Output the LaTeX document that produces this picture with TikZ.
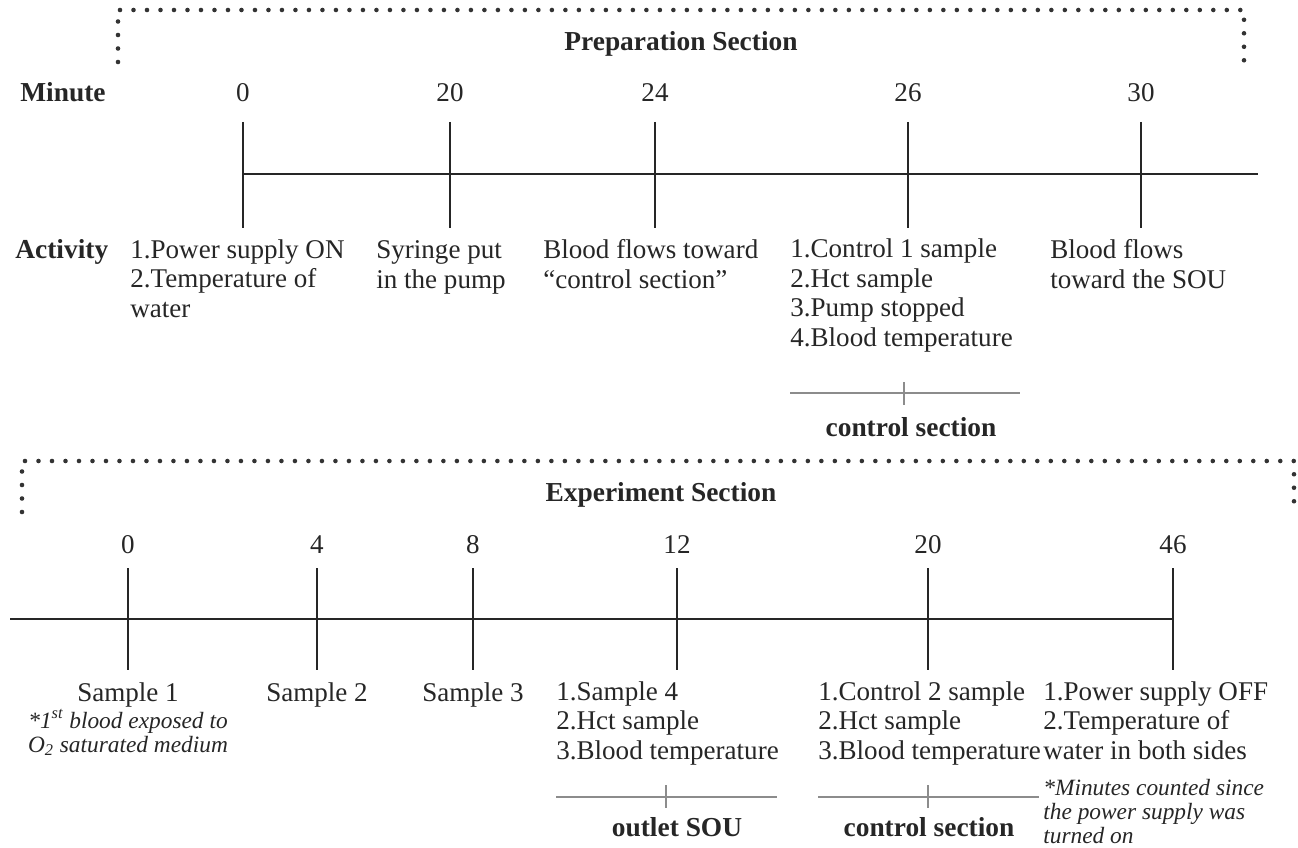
\documentclass[tikz,border=0pt]{standalone}
\usepackage{fontspec}
\setmainfont{Liberation Serif}
\usetikzlibrary{positioning}

\begin{document}
\begin{tikzpicture}[
    x=0.02cm, y=-0.02cm,
    every node/.style={inner sep=0pt, text=black!85, font=\fontsize{15.4}{16.7}\selectfont},
    head/.style={font=\fontsize{15.6}{16.7}\selectfont\bfseries},
    item/.style={anchor=base west, align=left},
    note/.style={font=\fontsize{13.3}{13.6}\selectfont\itshape},
    axis/.style={draw=black!85, line width=1.1pt},
    brace/.style={draw=black!45, line width=1.2pt},
    dotline/.style={draw=black!80, line width=2.6pt, line cap=round, dash pattern=on 0pt off 0.27cm}
]
    \useasboundingbox (0,0) rectangle (1298,848);

    % Preparation section
    \draw[dotline] (118,62) -- (118,10) -- (1244,10) -- (1244,62);
    \node[head, anchor=base] (prep) at (681,51) {Preparation Section};

    % Minutes
    \node[head, anchor=base west] (minute) at (20,102) {Minute};
    \node[anchor=base] (a0) at (243,102) {0};
    \node[anchor=base] (a20) at (450,102) {20};
    \node[anchor=base] (a24) at (655,102) {24};
    \node[anchor=base] (a26) at (908,102) {26};
    \node[anchor=base] (a30) at (1141,102) {30};

    % Time line
    \coordinate (ta) at (243,174);
    \coordinate (tb) at (1258,174);
    \draw[axis] (ta) -- (tb);
    \draw[axis] (a0 |- 0,122) -- (a0 |- 0,228);
    \draw[axis] (a20 |- 0,122) -- (a20 |- 0,228);
    \draw[axis] (a24 |- 0,122) -- (a24 |- 0,228);
    \draw[axis] (a26 |- 0,122) -- (a26 |- 0,228);
    \draw[axis] (a30 |- 0,122) -- (a30 |- 0,228);

    % Activities (base = last line)
    \node[head, anchor=base west] (activity) at (15,258) {Activity};
    \node[item] (act0) at (130,317) {1.Power supply ON\\2.Temperature of\\water};
    \node[item] (act20) at (376,288) {Syringe put\\in the pump};
    \node[item] (act24) at (543,288) {Blood flows toward\\``control section''};
    \node[item] (act26) at (790,346) {1.Control 1 sample\\2.Hct sample\\3.Pump stopped\\4.Blood temperature};
    \node[item] (act30) at (1050,288) {Blood flows\\toward the SOU};

    % control section mark
    \coordinate (cal) at (790,393);
    \coordinate (car) at (1020,393);
    \draw[brace] (cal) -- (car);
    \draw[brace] (904,382) -- (904,405);
    \node[head, anchor=base] (ctrla) at (911,436) {control section};

    % Experiment section
    \draw[dotline] (22,512) -- (22,461) -- (1294,461) -- (1294,512);
    \node[head, anchor=base] (expt) at (661,501) {Experiment Section};

    % Minutes
    \node[anchor=base] (b0) at (128,553) {0};
    \node[anchor=base] (b4) at (317,553) {4};
    \node[anchor=base] (b8) at (473,553) {8};
    \node[anchor=base] (b12) at (677,553) {12};
    \node[anchor=base] (b20) at (928,553) {20};
    \node[anchor=base] (b46) at (1173,553) {46};

    % Time line
    \coordinate (tc) at (10,619);
    \coordinate (td) at (1173,619);
    \draw[axis] (tc) -- (td);
    \draw[axis] (b0 |- 0,568) -- (b0 |- 0,670);
    \draw[axis] (b4 |- 0,568) -- (b4 |- 0,670);
    \draw[axis] (b8 |- 0,568) -- (b8 |- 0,670);
    \draw[axis] (b12 |- 0,568) -- (b12 |- 0,670);
    \draw[axis] (b20 |- 0,568) -- (b20 |- 0,670);
    \draw[axis] (b46 |- 0,568) -- (b46 |- 0,670);

    % Samples
    \node[anchor=base] (s1) at (128,701) {Sample 1};
    \node[note, anchor=base, align=center] (s1note) at (128,752) {*1\textsuperscript{st} blood exposed to\\O\textsubscript{2} saturated medium};
    \node[anchor=base] (s2) at (317,701) {Sample 2};
    \node[anchor=base] (s3) at (473,701) {Sample 3};
    \node[item] (s4) at (556,759) {1.Sample 4\\2.Hct sample\\3.Blood temperature};
    \node[item] (ctl2) at (818,759) {1.Control 2 sample\\2.Hct sample\\3.Blood temperature};
    \node[item] (off) at (1043,759) {1.Power supply OFF\\2.Temperature of\\water in both sides};
    \node[note, anchor=base west, align=left] (offnote) at (1043,843) {*Minutes counted since\\the power supply was\\turned on};

    % outlet SOU and control section marks
    \coordinate (sol) at (556,797);
    \coordinate (sor) at (777,797);
    \draw[brace] (sol) -- (sor);
    \draw[brace] (666,785) -- (666,808);
    \node[head, anchor=base] (sou) at (677,836) {outlet SOU};
    \coordinate (cbl) at (818,797);
    \coordinate (cbr) at (1039,797);
    \draw[brace] (cbl) -- (cbr);
    \draw[brace] (928,785) -- (928,808);
    \node[head, anchor=base] (ctrlb) at (929,836) {control section};
\end{tikzpicture}
\end{document}
